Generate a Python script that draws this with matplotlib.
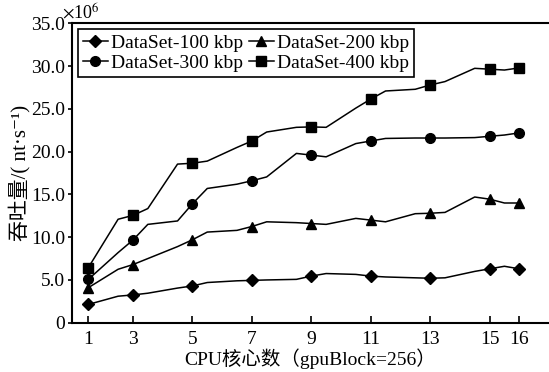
#!/usr/bin/env python3
# -*- coding: utf-8 -*-

import numpy as np
import matplotlib
matplotlib.use('Agg')
import matplotlib.pyplot as plt
from matplotlib.ticker import FuncFormatter

# x positions of the sampled points (markers sit on the tick positions)
grid_x = [1.5, 2.5, 3, 3.5, 4.5, 5, 5.5, 6.5, 7, 7.5, 8.5, 9, 9.5,
          10.5, 11, 11.5, 12.5, 13, 13.5, 14.5, 15, 15.5, 16]
tick_pos = [1.5, 3, 5, 7, 9, 11, 13, 15, 16]
tick_labels = ['1', '3', '5', '7', '9', '11', '13', '15', '16']

# throughput, x10^6 nt/s
ds100 = [2.14, 3.1, 3.25, 3.45, 4.05, 4.3, 4.7, 4.9, 4.95, 5.0, 5.07, 5.45,
         5.75, 5.65, 5.45, 5.35, 5.25, 5.2, 5.25, 6.0, 6.3, 6.6, 6.3]
ds200 = [4.1, 6.25, 6.8, 7.5, 8.9, 9.7, 10.6, 10.8, 11.25, 11.8, 11.7, 11.6,
         11.5, 12.2, 12.0, 11.8, 12.75, 12.8, 12.9, 14.7, 14.45, 14.0, 14.0]
ds300 = [5.07, 8.2, 9.67, 11.5, 11.9, 13.9, 15.7, 16.2, 16.6, 17.05, 19.8,
         19.6, 19.4, 20.95, 21.25, 21.55, 21.6, 21.6, 21.6, 21.65, 21.8,
         21.95, 22.2]
ds400 = [6.45, 12.1, 12.55, 13.35, 18.55, 18.65, 18.9, 20.5, 21.25, 22.3,
         22.85, 22.9, 22.85, 25.1, 26.15, 27.1, 27.3, 27.8, 28.2, 29.75,
         29.65, 29.55, 29.8]

series = [
    (ds100, 'D', 'DataSet-100 kbp'),
    (ds200, '^', 'DataSet-200 kbp'),
    (ds300, 'o', 'DataSet-300 kbp'),
    (ds400, 's', 'DataSet-400 kbp'),
]


def main():
    plt.rcParams['font.family'] = ['Liberation Serif', 'Noto Sans CJK SC',
                                   'DejaVu Sans']
    plt.rcParams['mathtext.fontset'] = 'stix'
    plt.rcParams['font.size'] = 14

    fig = plt.figure(figsize=(5.49, 3.72), dpi=100)
    ax = fig.add_axes([0.131, 0.1325, 0.869, 0.8045])

    marks = [grid_x.index(p) for p in tick_pos]
    lines = []
    for ys, m, lab in series:
        ms = 7 if m != 'D' else 6.5
        ln, = ax.plot(grid_x, ys, '-', color='black', linewidth=1.1,
                      marker=m, markersize=ms, markevery=marks, label=lab)
        lines.append(ln)

    ax.set_xlim(0.946, 17.0)
    ax.set_ylim(0, 35)
    ax.set_xticks(tick_pos)
    ax.set_xticklabels(tick_labels)
    ax.set_yticks(np.arange(0, 35.1, 5))
    ax.yaxis.set_major_formatter(
        FuncFormatter(lambda v, p: '0' if v == 0 else '%.1f' % v))

    ax.spines['right'].set_visible(False)
    for s in ['left', 'bottom', 'top']:
        ax.spines[s].set_linewidth(1.5)
    ax.tick_params(axis='x', direction='in', length=5, width=1.2, pad=6)
    ax.tick_params(axis='y', direction='out', length=3, width=1.2, pad=2)

    ax.set_xlabel('CPU核心数（gpuBlock=256）', labelpad=0)
    ax.set_ylabel('吞吐量/( nt·s⁻¹)', fontsize=15, labelpad=0)
    ax.text(-0.02, 1.005, r'$\times$10$^{6}$', transform=ax.transAxes,
            ha='left', va='bottom', fontsize=13)

    # row-wise order: 100, 200 / 300, 400
    order = [0, 2, 1, 3]
    leg = ax.legend([lines[i] for i in order],
                    [series[i][2] for i in order],
                    ncol=2, loc='upper left', bbox_to_anchor=(0.0, 1.0),
                    borderaxespad=0.3, handlelength=1.3, handletextpad=0.15,
                    columnspacing=0.3, labelspacing=0.15, borderpad=0.25,
                    fancybox=False, edgecolor='black', framealpha=1)
    leg.get_frame().set_linewidth(1.2)

    plt.savefig('out.png', dpi=100)


if __name__ == '__main__':
    main()
